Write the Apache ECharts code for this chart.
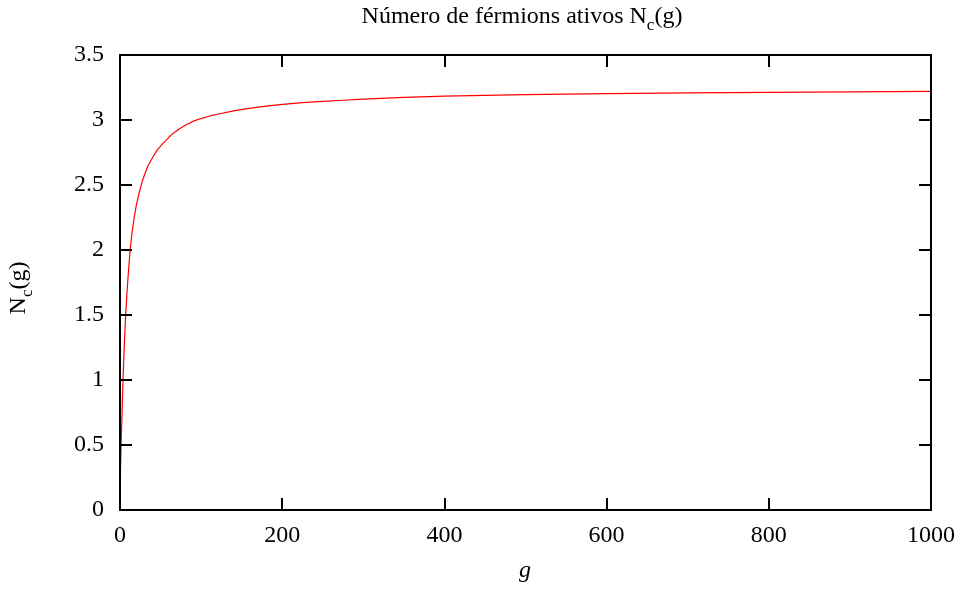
<!DOCTYPE html>
<html>
<head>
<meta charset="utf-8">
<script src="https://cdn.jsdelivr.net/npm/echarts@6/dist/echarts.min.js"></script>
<style>
html,body{margin:0;padding:0;background:#fff;}
#chart{width:961px;height:590px;}
</style>
</head>
<body>
<div id="chart"></div>
<script>
// Data
const gValues = [0, 0.3, 0.7, 1, 1.6, 2.2, 3, 3.7, 4.5, 5.5, 7, 8.5, 10, 12.5, 15, 17.5, 20, 24, 28, 34, 40, 46, 53, 60, 65, 73, 82, 92, 102, 112, 123, 140, 155, 175, 197, 225, 250, 275, 300, 350, 400, 450, 500, 600, 700, 800, 900, 1000];
const ncValues = [0, 0.18, 0.33, 0.42, 0.55, 0.68, 0.85, 1.0, 1.13, 1.3, 1.5, 1.66, 1.8, 2.0, 2.14, 2.25, 2.34, 2.45, 2.54, 2.64, 2.71, 2.77, 2.82, 2.865, 2.895, 2.93, 2.965, 2.995, 3.015, 3.033, 3.048, 3.07, 3.085, 3.103, 3.118, 3.133, 3.143, 3.152, 3.16, 3.174, 3.184, 3.19, 3.195, 3.203, 3.208, 3.213, 3.217, 3.22];
const xTicks = [0, 200, 400, 600, 800, 1000];
const yTicks = [0, 0.5, 1, 1.5, 2, 2.5, 3, 3.5];
const titleText = 'Número de férmions ativos N{sub|c}(g)';
const yLabelText = 'N{sub|c}(g)';
const xLabelText = 'g';

const points = gValues.map((g, i) => [g, ncValues[i]]);
const FONT = '"Liberation Serif", "Times New Roman", serif';
const FS = 24;

const chart = echarts.init(document.getElementById('chart'), null, {renderer: 'canvas'});
const axisLine = {show: true, onZero: false, lineStyle: {color: '#000', width: 2}};
const tickIn = {show: true, inside: true, length: 12, lineStyle: {color: '#000', width: 2}};
const labelStyle = {color: '#000', fontFamily: FONT, fontSize: FS, formatter: v => String(v)};

const xBase = {type: 'value', z: 5, min: xTicks[0], max: xTicks[xTicks.length - 1], interval: xTicks[1] - xTicks[0],
  axisLine: axisLine, axisTick: tickIn, splitLine: {show: false}};
const yBase = {type: 'value', z: 5, min: yTicks[0], max: yTicks[yTicks.length - 1], interval: yTicks[1] - yTicks[0],
  axisLine: axisLine, axisTick: tickIn, splitLine: {show: false}};

chart.setOption({
  animation: false,
  backgroundColor: '#fff',
  grid: {left: 120, right: 30, top: 55, bottom: 80, containLabel: false, outerBoundsMode: 'none'},
  xAxis: [
    Object.assign({}, xBase, {position: 'bottom', axisLabel: Object.assign({margin: 14}, labelStyle)}),
    Object.assign({}, xBase, {position: 'top', axisLabel: {show: false}})
  ],
  yAxis: [
    Object.assign({}, yBase, {position: 'left', axisLabel: Object.assign({margin: 16}, labelStyle)}),
    Object.assign({}, yBase, {position: 'right', axisLabel: {show: false}})
  ],
  series: [{
    type: 'line',
    xAxisIndex: 0, yAxisIndex: 0,
    data: points,
    showSymbol: false,
    smooth: false,
    lineStyle: {color: '#ff0000', width: 1.2},
    z: 1
  }],
  graphic: [
    {type: 'text', x: 522, y: 17,
     style: {text: titleText, fontFamily: FONT, fontSize: FS, fill: '#000',
       align: 'center', verticalAlign: 'middle',
       rich: {sub: {fontFamily: FONT, fontSize: 17, fill: '#000', padding: [18, 0, 0, 0]}}}},
    {type: 'text', x: 19, y: 288, rotation: Math.PI / 2,
     style: {text: yLabelText, fontFamily: FONT, fontSize: FS, fill: '#000',
       align: 'center', verticalAlign: 'middle',
       rich: {sub: {fontFamily: FONT, fontSize: 17, fill: '#000', padding: [18, 0, 0, 0]}}}},
    {type: 'text', x: 525, y: 571,
     style: {text: xLabelText, fontFamily: FONT, fontSize: FS, fontStyle: 'italic', fill: '#000',
       align: 'center', verticalAlign: 'middle'}}
  ]
});
</script>
</body>
</html>
